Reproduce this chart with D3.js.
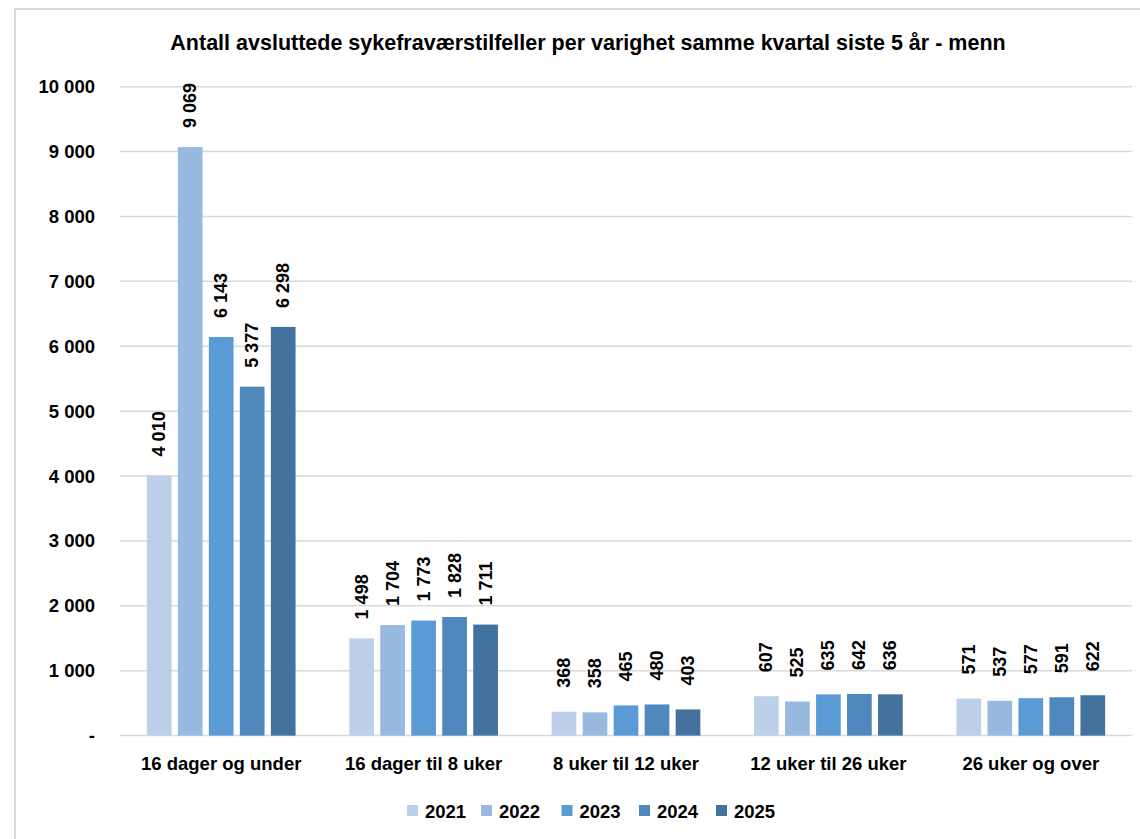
<!DOCTYPE html>
<html>
<head>
<meta charset="utf-8">
<script src="https://d3js.org/d3.v7.min.js"></script>
<style>
  body { margin: 0; background: #fff; }
  text { font-family: "Liberation Sans", Arial, sans-serif; font-weight: bold; fill: #000; }
</style>
</head>
<body>
<div id="chart"></div>
<script>
var categories = ["16 dager og under", "16 dager til 8 uker", "8 uker til 12 uker", "12 uker til 26 uker", "26 uker og over"];
var years = ["2021", "2022", "2023", "2024", "2025"];
var v2021 = [4010, 1498, 368, 607, 571];
var v2022 = [9069, 1704, 358, 525, 537];
var v2023 = [6143, 1773, 465, 635, 577];
var v2024 = [5377, 1828, 480, 642, 591];
var v2025 = [6298, 1711, 403, 636, 622];
var yTicks = [0, 1000, 2000, 3000, 4000, 5000, 6000, 7000, 8000, 9000, 10000];
var colors = ["#bdd0e9", "#98b9e0", "#5b9bd5", "#4f88bd", "#42729d"];

var series = [v2021, v2022, v2023, v2024, v2025];

var width = 1140, height = 839;
var plotLeft = 120, plotRight = 1132, plotTop = 86.7, plotBottom = 735.6;

var svg = d3.select("#chart").append("svg")
    .attr("width", width)
    .attr("height", height);

// outer frame
svg.append("path")
    .attr("d", "M15,839 V9 H1140")
    .attr("fill", "none")
    .attr("stroke", "#d9d9d9")
    .attr("stroke-width", 2);

svg.append("text")
    .attr("x", 588)
    .attr("y", 43)
    .attr("text-anchor", "middle")
    .attr("dominant-baseline", "central")
    .style("font-size", "21.5px")
    .text("Antall avsluttede sykefraværstilfeller per varighet samme kvartal siste 5 år - menn");

var fmt = d3.formatLocale({ decimal: ",", thousands: " ", grouping: [3], currency: ["", ""] }).format(",d");

var y = d3.scaleLinear().domain([0, 10000]).range([plotBottom, plotTop]);
var x0 = d3.scaleBand().domain(categories).range([plotLeft, plotRight]);
var x1 = d3.scaleBand().domain(years).range([0, x0.bandwidth()])
    .paddingInner(0.203).paddingOuter(0.866);

// gridlines
svg.append("g").selectAll("line")
    .data(yTicks)
    .enter().append("line")
    .attr("x1", plotLeft).attr("x2", plotRight)
    .attr("y1", function(d) { return y(d); })
    .attr("y2", function(d) { return y(d); })
    .attr("stroke", "#d9d9d9")
    .attr("stroke-width", 1.5);

svg.append("g").selectAll("text")
    .data(yTicks)
    .enter().append("text")
    .attr("x", 95)
    .attr("y", function(d) { return y(d); })
    .attr("text-anchor", "end")
    .attr("dominant-baseline", "central")
    .style("font-size", "18.5px")
    .text(function(d) { return d === 0 ? "-" : fmt(d); });

var groups = svg.append("g").selectAll("g")
    .data(categories)
    .enter().append("g")
    .attr("transform", function(d) { return "translate(" + x0(d) + ",0)"; });

var bars = groups.selectAll("g")
    .data(function(c, ci) {
        return years.map(function(yr, si) { return { year: yr, si: si, value: series[si][ci] }; });
    })
    .enter().append("g");

bars.append("rect")
    .attr("x", function(d) { return x1(d.year); })
    .attr("width", x1.bandwidth())
    .attr("y", function(d) { return y(d.value); })
    .attr("height", function(d) { return plotBottom - y(d.value); })
    .attr("fill", function(d) { return colors[d.si]; });

bars.append("text")
    .attr("transform", function(d) {
        var gap = d.value < 1000 ? 24 : 19;
        return "translate(" + (x1(d.year) + x1.bandwidth() / 2) + "," + (y(d.value) - gap) + ") rotate(-90)";
    })
    .attr("dominant-baseline", "central")
    .style("font-size", "18px")
    .text(function(d) { return fmt(d.value); });

// category labels
svg.append("g").selectAll("text")
    .data(categories)
    .enter().append("text")
    .attr("x", function(d) { return x0(d) + x0.bandwidth() / 2; })
    .attr("y", 763)
    .attr("text-anchor", "middle")
    .attr("dominant-baseline", "central")
    .style("font-size", "18.5px")
    .text(function(d) { return d; });

// legend
var legendX = [407, 481, 561.5, 639, 716];
var legend = svg.append("g").selectAll("g")
    .data(years)
    .enter().append("g")
    .attr("transform", function(d, i) { return "translate(" + legendX[i] + ",805)"; });

legend.append("rect")
    .attr("width", 11).attr("height", 11)
    .attr("fill", function(d, i) { return colors[i]; });

legend.append("text")
    .attr("x", 18)
    .attr("y", 6)
    .attr("dominant-baseline", "central")
    .style("font-size", "18.5px")
    .text(function(d) { return d; });
</script>
</body>
</html>
